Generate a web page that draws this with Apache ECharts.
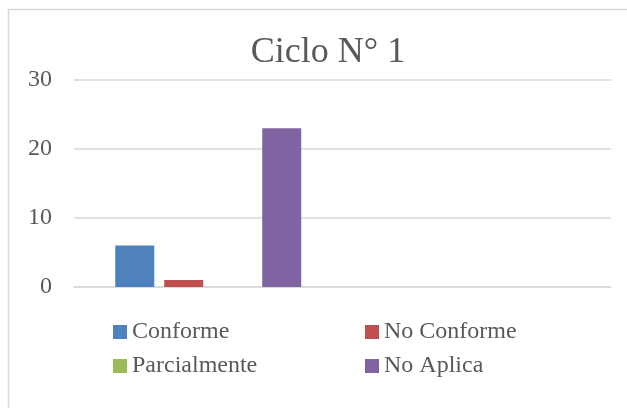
<!DOCTYPE html>
<html>
<head>
<meta charset="utf-8">
<script src="https://cdn.jsdelivr.net/npm/echarts@6/dist/echarts.min.js"></script>
<style>
html,body{margin:0;padding:0;background:#fff;}
#c{width:627px;height:408px;}
</style>
</head>
<body>
<div id="c"></div>
<script>
const titleText = 'Ciclo N° 1';
const categories = ['', ''];
const seriesNames = ['Conforme', 'No Conforme', 'Parcialmente', 'No Aplica'];
const conforme = [6, null];
const noConforme = [1, null];
const parcialmente = [0, null];
const noAplica = [23, null];
const yTicks = [0, 10, 20, 30];

const colors = ['#4F81BD', '#C0504D', '#9BBB59', '#8064A2'];
const values = [conforme, noConforme, parcialmente, noAplica];
const font = '"Liberation Serif", serif';
const textColor = '#595959';

const chart = echarts.init(document.getElementById('c'));
chart.setOption({
  animation: false,
  backgroundColor: '#fff',
  color: colors,
  title: {
    text: titleText,
    left: 323,
    top: 30,
    textAlign: 'center',
    textStyle: { fontFamily: font, fontSize: 36, fontWeight: 'normal', color: textColor }
  },
  graphic: [{
    type: 'rect',
    shape: { x: 8.5, y: 9.5, width: 700, height: 500 },
    style: { fill: 'none', stroke: '#D9D9D9', lineWidth: 1.5 },
    silent: true
  }],
  legend: [{
    data: [seriesNames[0], seriesNames[2]],
    orient: 'vertical',
    left: 108, top: 315,
    itemWidth: 14, itemHeight: 14, itemGap: 10,
    icon: 'rect',
    textStyle: { fontFamily: font, fontSize: 24, color: textColor, lineHeight: 24 }
  }, {
    data: [seriesNames[1], seriesNames[3]],
    orient: 'vertical',
    left: 360, top: 315,
    itemWidth: 14, itemHeight: 14, itemGap: 10,
    icon: 'rect',
    textStyle: { fontFamily: font, fontSize: 24, color: textColor, lineHeight: 24 }
  }],
  grid: { left: 74, right: 16, top: 80, bottom: 121, containLabel: false },
  xAxis: {
    type: 'category',
    data: categories,
    axisLine: { lineStyle: { color: '#D9D9D9', width: 1.5 } },
    axisTick: { show: false },
    axisLabel: { show: false }
  },
  yAxis: {
    type: 'value',
    min: yTicks[0], max: yTicks[yTicks.length - 1], interval: 10,
    axisLine: { show: false },
    axisTick: { show: false },
    axisLabel: { fontFamily: font, fontSize: 24, color: textColor, margin: 22 },
    splitLine: { lineStyle: { color: '#D9D9D9', width: 1.5 } }
  },
  series: seriesNames.map((n, i) => ({
    name: n,
    type: 'bar',
    data: values[i],
    barWidth: 39,
    barGap: '25.6%',
    itemStyle: { color: colors[i] }
  }))
});
</script>
</body>
</html>
